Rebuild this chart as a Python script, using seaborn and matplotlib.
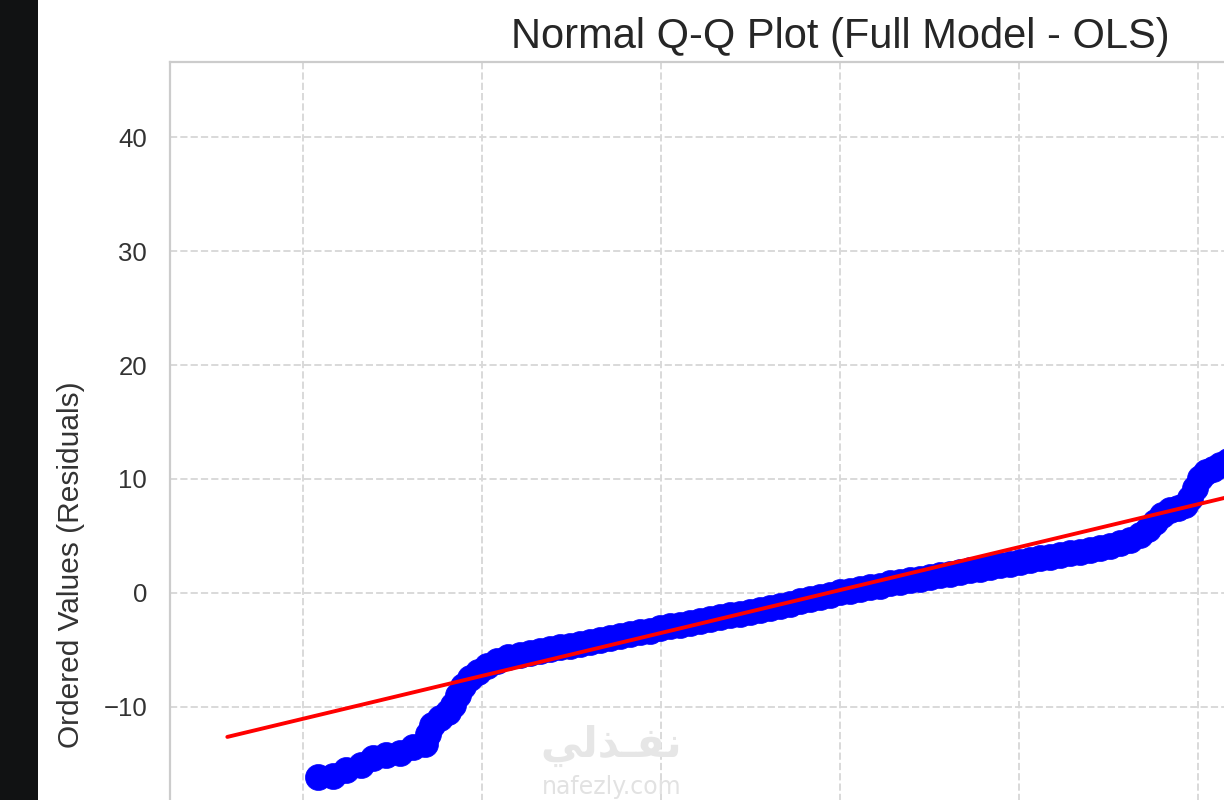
import matplotlib
matplotlib.use("Agg")
import matplotlib.pyplot as plt
import seaborn as sns
from matplotlib.patches import Rectangle

# theoretical normal quantiles and ordered residuals
theoretical_q = [-2.916, -2.832, -2.760, -2.676, -2.609, -2.536, -2.458, -2.385, -2.318, -2.302,
                 -2.279, -2.235, -2.190, -2.162, -2.134, -2.106, -2.067, -2.022, -1.972, -1.916,
                 -1.855, -1.788, -1.732, -1.676, -1.620, -1.564, -1.508, -1.453, -1.397, -1.341,
                 -1.285, -1.229, -1.173, -1.117, -1.061, -1.006, -0.950, -0.894, -0.838, -0.782,
                 -0.726, -0.670, -0.615, -0.559, -0.503, -0.447, -0.391, -0.335, -0.279, -0.223,
                 -0.168, -0.112, -0.056, 0.000, 0.056, 0.112, 0.168, 0.223, 0.279, 0.335,
                 0.391, 0.447, 0.503, 0.559, 0.615, 0.670, 0.726, 0.782, 0.838, 0.894,
                 0.950, 1.006, 1.061, 1.117, 1.173, 1.229, 1.285, 1.341, 1.397, 1.453,
                 1.508, 1.564, 1.620, 1.676, 1.721, 1.760, 1.799, 1.844, 1.888, 1.927,
                 1.955, 1.983, 2.011, 2.045, 2.084, 2.123, 2.168, 2.212]
ordered_resid = [-16.15, -16.10, -15.53, -15.09, -14.47, -14.21, -14.04, -13.51, -13.25, -12.37,
                 -11.58, -10.96, -10.44, -9.82, -8.95, -8.16, -7.46, -6.93, -6.40, -5.96,
                 -5.61, -5.44, -5.27, -5.10, -4.93, -4.75, -4.63, -4.46, -4.29, -4.14,
                 -3.97, -3.82, -3.64, -3.47, -3.30, -3.09, -2.94, -2.79, -2.63, -2.47,
                 -2.31, -2.15, -1.98, -1.81, -1.65, -1.48, -1.32, -1.13, -0.94, -0.75,
                 -0.57, -0.39, -0.18, 0.04, 0.19, 0.34, 0.49, 0.64, 0.86, 0.98,
                 1.11, 1.25, 1.40, 1.55, 1.70, 1.84, 1.99, 2.14, 2.29, 2.43,
                 2.58, 2.73, 2.88, 3.03, 3.18, 3.32, 3.47, 3.62, 3.77, 3.95,
                 4.12, 4.34, 4.65, 5.09, 5.61, 6.23, 6.84, 7.28, 7.41, 7.72,
                 8.33, 9.21, 10.09, 10.61, 10.88, 11.23, 11.58, 11.84]

# reference line end points
line_q = [-3.42, 3.42]
line_resid = [-12.64, 13.14]

xticks = [-3, -2, -1, 0, 1, 2, 3]
yticks = [-40, -30, -20, -10, 0, 10, 20, 30, 40]

sns.set_style("whitegrid")
plt.rcParams['font.family'] = ['Liberation Sans', 'DejaVu Sans']

W, H = 1224, 800
fig = plt.figure(figsize=(W / 100, H / 100), dpi=100)
fig.patches.append(Rectangle((0, 0), 38 / W, 1, transform=fig.transFigure,
                             facecolor='#111213', edgecolor='none'))

# the screenshot only shows the upper left part of the axes
ax = fig.add_axes([170 / W, -268 / H, 1340 / W, 1006 / H])

sns.scatterplot(x=theoretical_q, y=ordered_resid, ax=ax, color='blue',
                edgecolor='blue', linewidth=0.5, s=350, zorder=2)
sns.lineplot(x=line_q, y=line_resid, ax=ax, color='red', linewidth=2.8, zorder=3)

ax.set_xlim(-3.74, 3.74)
ax.set_ylim(-41.7, 46.6)
ax.set_xticks(xticks)
ax.set_yticks(yticks)
ax.grid(True, linestyle='--', color='#d9d9d9', linewidth=1.4)
for sp in ax.spines.values():
    sp.set_color('#cccccc')
    sp.set_linewidth(1.6)
ax.tick_params(axis='both', length=0, labelsize=18.5, pad=16.5, labelcolor='#333333')

ax.set_title('Normal Q-Q Plot (Full Model - OLS)', fontsize=30, pad=10, color='#262626')
ax.set_ylabel('Ordered Values (Residuals)', fontsize=21.5, labelpad=13, color='#333333')

# watermark of the screenshot site
fig.text(611 / W, 1 - 746 / H, '\uFEF2\uFEDF\uFEAC\u0640\uFED4\uFEE7', ha='center', va='center',
         fontsize=30, fontweight='bold', color='#e6e6e6', family=['DejaVu Sans'])
fig.text(612 / W, 1 - 787 / H, 'nafezly.com', ha='center', va='center',
         fontsize=17, color='#e2e2e2', family=['DejaVu Sans'])

fig.savefig('out.png', dpi=100)
